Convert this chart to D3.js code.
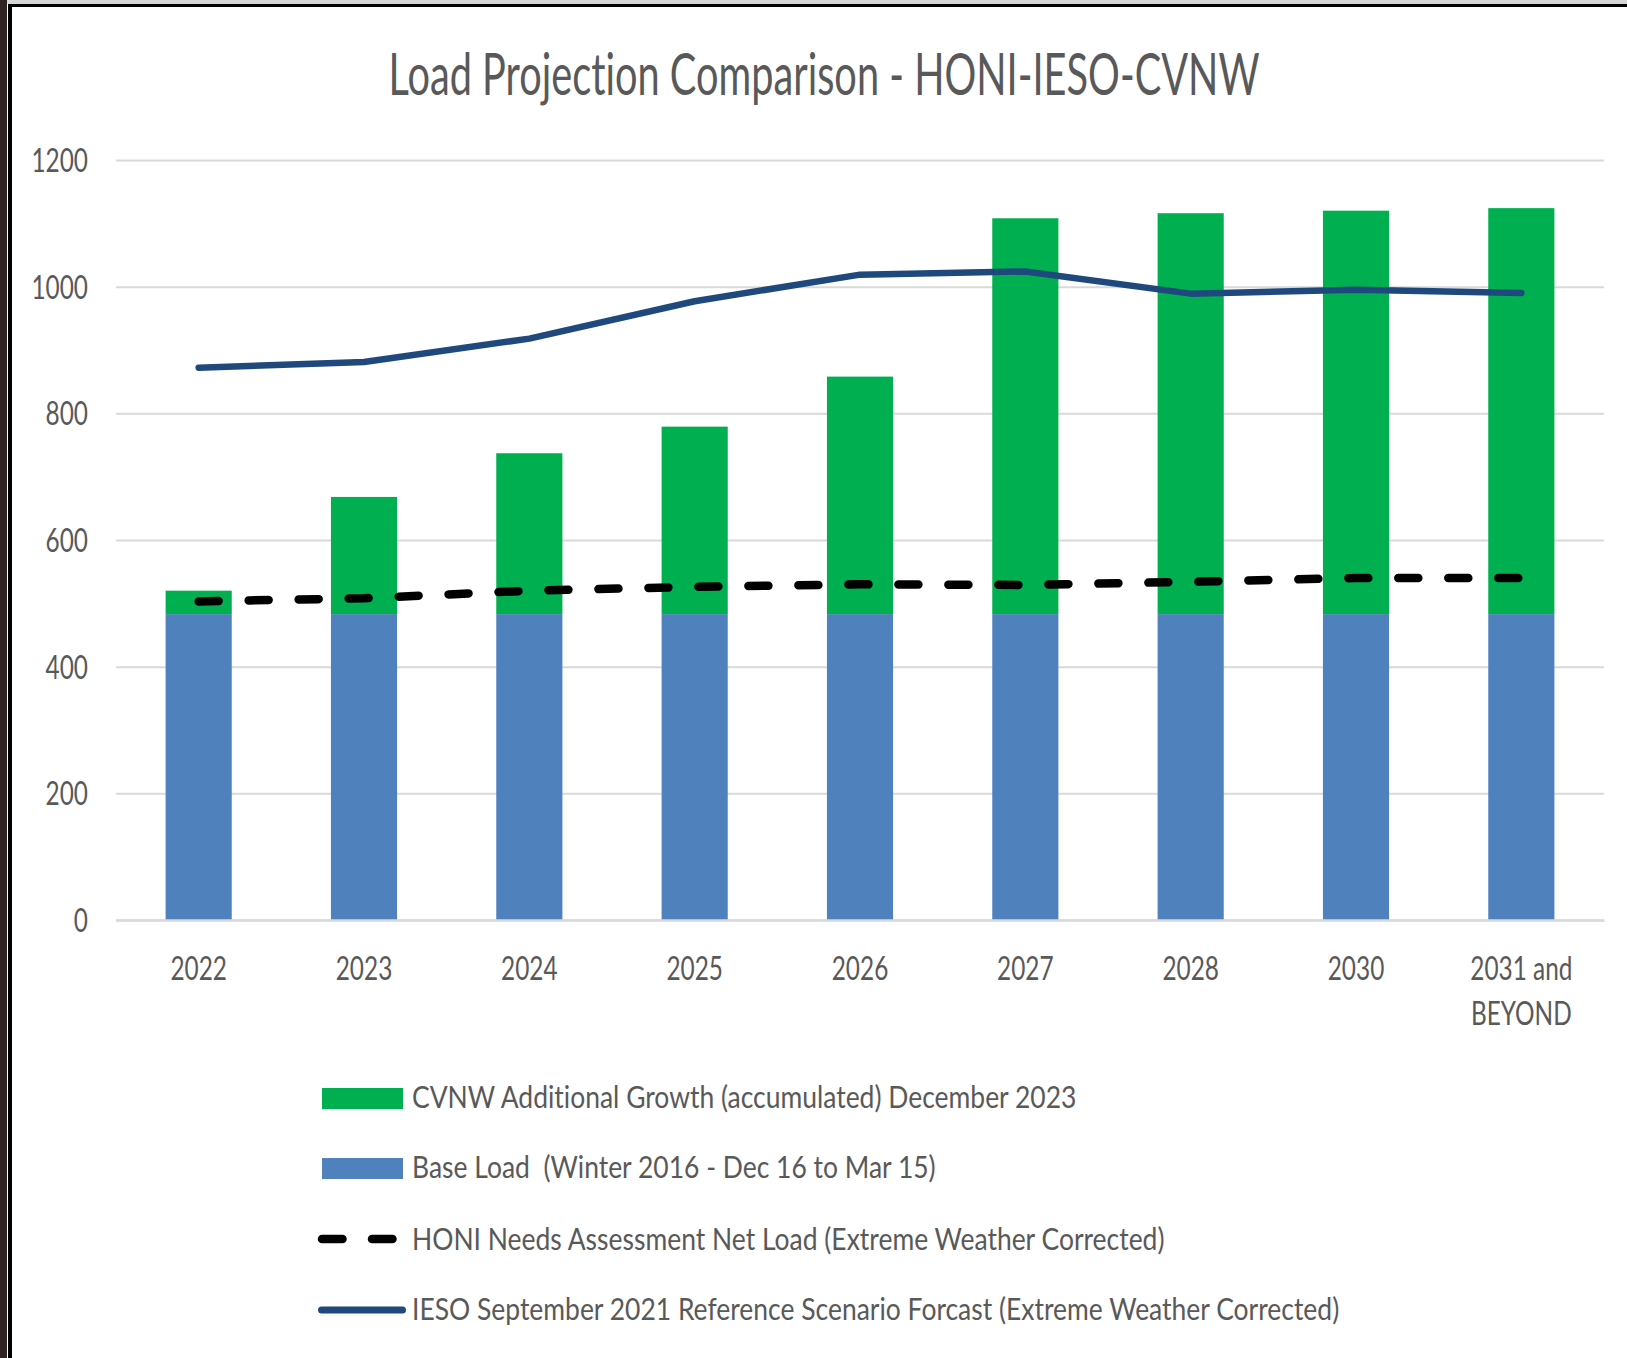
<!DOCTYPE html>
<html>
<head>
<meta charset="utf-8">
<script src="https://cdn.jsdelivr.net/npm/d3@7"></script>
<style>
    body { margin: 0; background: #ffffff; }
    svg text { font-family: Lato, "Open Sans", sans-serif; fill: #595959; font-variant-ligatures: none; }
</style>
</head>
<body>
<div id="chart"></div>
<script>
// chart data
const categories = ["2022", "2023", "2024", "2025", "2026", "2027", "2028", "2030", "2031 and BEYOND"];
const base_load = [483, 483, 483, 483, 483, 483, 483, 483, 483];
const cvnw_growth = [37, 185, 254, 296, 375, 625, 633, 637, 641];
const honi_net_load = [503, 508, 520, 526, 530, 529, 534, 540, 540];
const ieso_forecast = [872, 881, 918, 977, 1019, 1024, 989, 995, 990];
const y_ticks = [0, 200, 400, 600, 800, 1000, 1200];

const legend_labels = [
    "CVNW Additional Growth (accumulated) December 2023",
    "Base Load  (Winter 2016 - Dec 16 to Mar 15)",
    "HONI Needs Assessment Net Load (Extreme Weather Corrected)",
    "IESO September 2021 Reference Scenario Forcast (Extreme Weather Corrected)"
];

class LoadChart {
    constructor(parent_element) {
        this.parent_element = parent_element;
        this.colors = {green: "#00b050", blue: "#4f81bd", navy: "#1f497d", grid: "#d9d9d9"};
        this.initVis();
    }

    // the source picture is stretched vertically, so text is squeezed sideways by sx
    addText(parent, x, y, str, size, anchor, sx) {
        return parent.append("text")
            .attr("transform", `translate(${x},${y}) scale(${sx},1)`)
            .attr("text-anchor", anchor)
            .attr("font-size", size + "px")
            .attr("xml:space", "preserve")
            .style("white-space", "pre")
            .text(str);
    }

    initVis() {
        this.width = 1627;
        this.height = 1358;
        this.plot = {left: 116, right: 1604, top: 160, bottom: 920};

        this.svg = d3.select("#" + this.parent_element)
            .append("svg")
            .attr("width", this.width)
            .attr("height", this.height);

        // frame of the screenshot
        this.svg.append("rect")
            .attr("x", 0).attr("y", 0)
            .attr("width", this.width).attr("height", 4)
            .attr("fill", "#d6d6d6");
        this.svg.append("rect")
            .attr("x", 0).attr("y", 0)
            .attr("width", 7).attr("height", this.height)
            .attr("fill", "#2e2222");
        this.svg.append("line")
            .attr("x1", 10).attr("x2", 10)
            .attr("y1", 4).attr("y2", this.height)
            .attr("stroke", "#000").attr("stroke-width", 4);
        this.svg.append("line")
            .attr("x1", 8).attr("x2", this.width)
            .attr("y1", 5.5).attr("y2", 5.5)
            .attr("stroke", "#000").attr("stroke-width", 3);

        // title
        this.addText(this.svg, 824, 95, "Load Projection Comparison - HONI-IESO-CVNW", 58, "middle", 0.685);

        // scales
        this.x = d3.scaleBand()
            .domain(categories)
            .range([this.plot.left, this.plot.right])
            .paddingInner(0.6)
            .paddingOuter(0.3);

        this.y = d3.scaleLinear()
            .domain([0, 1200])
            .range([this.plot.bottom, this.plot.top]);

        this.wrangleData();
    }

    wrangleData() {
        this.rows = categories.map((c, i) => ({
            category: c,
            base: base_load[i],
            growth: cvnw_growth[i],
            honi: honi_net_load[i],
            ieso: ieso_forecast[i]
        }));
        this.stacked = d3.stack().keys(["base", "growth"])(this.rows);
        this.updateVis();
    }

    updateVis() {
        const vis = this;

        // gridlines
        const y_axis = d3.axisLeft(vis.y)
            .tickValues(y_ticks)
            .tickSize(-(vis.plot.right - vis.plot.left))
            .tickFormat(d3.format("d"));

        const y_g = vis.svg.append("g")
            .attr("transform", `translate(${vis.plot.left},0)`)
            .call(y_axis);
        y_g.select(".domain").remove();
        y_g.selectAll(".tick line")
            .attr("stroke", vis.colors.grid)
            .attr("stroke-width", 2);
        y_g.selectAll(".tick text").remove();

        // y labels, right aligned, centred on the gridline
        y_g.selectAll(".tick").each(function(d) {
            vis.addText(d3.select(this), -28, 11.5, d3.format("d")(d), 32.5, "end", 0.75);
        });

        // stacked bars
        const fills = [vis.colors.blue, vis.colors.green];
        vis.svg.append("g")
            .selectAll("g")
            .data(vis.stacked)
            .join("g")
            .attr("fill", (d, i) => fills[i])
            .selectAll("rect")
            .data(d => d)
            .join("rect")
            .attr("x", d => vis.x(d.data.category))
            .attr("y", d => vis.y(d[1]))
            .attr("width", vis.x.bandwidth())
            .attr("height", d => vis.y(d[0]) - vis.y(d[1]));

        // x axis line
        const x_axis = d3.axisBottom(vis.x).tickSize(0).tickPadding(0);
        const x_g = vis.svg.append("g")
            .attr("transform", `translate(0,${vis.plot.bottom})`)
            .call(x_axis);
        x_g.select(".domain")
            .attr("stroke", vis.colors.grid)
            .attr("stroke-width", 2.5);
        x_g.selectAll(".tick text").remove();

        // x labels, the last one wraps onto two lines
        x_g.selectAll(".tick").each(function(d) {
            const words = d === "2031 and BEYOND" ? ["2031 and", "BEYOND"] : [d];
            words.forEach((w, i) => vis.addText(d3.select(this), 0, 60 + i * 45, w, 32.5, "middle", 0.75));
        });

        const cx = d => vis.x(d.category) + vis.x.bandwidth() / 2;

        // HONI dashed line
        vis.svg.append("path")
            .datum(vis.rows)
            .attr("fill", "none")
            .attr("stroke", "#000")
            .attr("stroke-width", 8.5)
            .attr("stroke-linecap", "round")
            .attr("stroke-dasharray", "20 30")
            .attr("d", d3.line().x(cx).y(d => vis.y(d.honi)));

        // IESO solid line
        vis.svg.append("path")
            .datum(vis.rows)
            .attr("fill", "none")
            .attr("stroke", vis.colors.navy)
            .attr("stroke-width", 6.5)
            .attr("stroke-linecap", "round")
            .attr("stroke-linejoin", "round")
            .attr("d", d3.line().x(cx).y(d => vis.y(d.ieso)));

        // legend
        const legend = vis.svg.append("g").attr("class", "legend");
        const row_y = [1108, 1178, 1250, 1320];

        legend.append("rect")
            .attr("x", 322).attr("y", row_y[0] - 20)
            .attr("width", 81).attr("height", 21)
            .attr("fill", vis.colors.green);
        legend.append("rect")
            .attr("x", 322).attr("y", row_y[1] - 20)
            .attr("width", 81).attr("height", 21)
            .attr("fill", vis.colors.blue);
        legend.append("line")
            .attr("x1", 322).attr("x2", 393)
            .attr("y1", row_y[2] - 11).attr("y2", row_y[2] - 11)
            .attr("stroke", "#000")
            .attr("stroke-width", 8.5)
            .attr("stroke-linecap", "round")
            .attr("stroke-dasharray", "20.5 29.5");
        legend.append("line")
            .attr("x1", 321.5).attr("x2", 402.5)
            .attr("y1", row_y[3] - 10).attr("y2", row_y[3] - 10)
            .attr("stroke", vis.colors.navy)
            .attr("stroke-width", 7)
            .attr("stroke-linecap", "round");

        legend_labels.forEach((label, i) => vis.addText(legend, 412, row_y[i], label, 30.5, "start", 0.868));
    }
}

new LoadChart("chart");
</script>
</body>
</html>
